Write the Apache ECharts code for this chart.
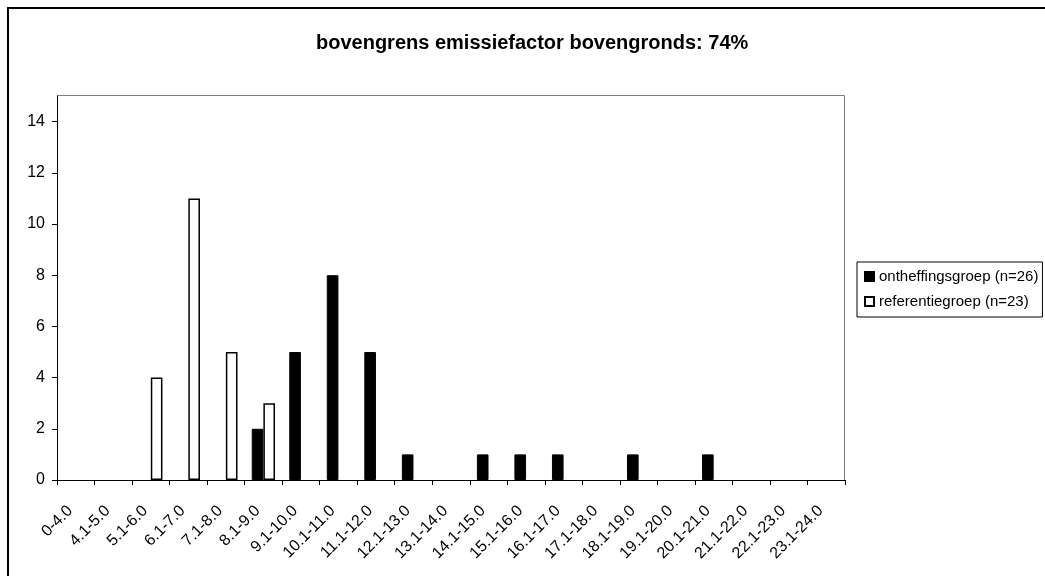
<!DOCTYPE html>
<html>
<head>
<meta charset="utf-8">
<script src="https://cdn.jsdelivr.net/npm/echarts@6/dist/echarts.min.js"></script>
<style>html,body{margin:0;padding:0;background:#fff;}#c{width:1045px;height:576px;}</style>
</head>
<body>
<div id="c"></div>
<script>
const categories = ['0-4.0','4.1-5.0','5.1-6.0','6.1-7.0','7.1-8.0','8.1-9.0','9.1-10.0','10.1-11.0','11.1-12.0','12.1-13.0','13.1-14.0','14.1-15.0','15.1-16.0','16.1-17.0','17.1-18.0','18.1-19.0','19.1-20.0','20.1-21.0','21.1-22.0','22.1-23.0','23.1-24.0'];
const ontheffingsgroep = [0,0,0,0,0,2,5,8,5,1,0,1,1,1,0,1,0,1,0,0,0];
const referentiegroep = [0,0,4,11,5,3,0,0,0,0,0,0,0,0,0,0,0,0,0,0,0];
const seriesNames = ['ontheffingsgroep (n=26)','referentiegroep (n=23)'];
const titleText = 'bovengrens emissiefactor bovengronds: 74%';

const FONT = '"Liberation Sans", Arial, sans-serif';
const chart = echarts.init(document.getElementById('c'), null, {renderer:'canvas'});
const noZero = a => a.map(v => v === 0 ? '-' : v);
chart.setOption({
  animation:false,
  backgroundColor:'#fff',
  textStyle:{fontFamily:FONT},
  title:{
    text:titleText, left:311, top:28,
    textStyle:{fontFamily:FONT, fontSize:20, fontWeight:'bold', color:'#000'}
  },
  graphic:[
    {type:'rect', shape:{x:8, y:8, width:1060, height:600}, style:{fill:null, stroke:'#000', lineWidth:2}, z:-1},
    {type:'rect', shape:{x:57.5, y:95.5, width:787, height:385}, style:{fill:null, stroke:'#808080', lineWidth:1}, z:-1}
  ],
  legend:{
    orient:'vertical', left:857, top:262,
    padding:[7,4,8,7], itemGap:10, itemWidth:9, itemHeight:9,
    borderColor:'#000', borderWidth:1,
    textStyle:{fontFamily:FONT, fontSize:15, color:'#000'},
    data:[{name:seriesNames[0], icon:'rect'},{name:seriesNames[1], icon:'rect'}]
  },
  grid:{left:57, right:200, top:96, bottom:96},
  xAxis:{
    type:'category', data:categories,
    axisLine:{lineStyle:{color:'#000', width:1}},
    axisTick:{show:true, length:5, lineStyle:{color:'#000'}},
    axisLabel:{rotate:45, interval:0, margin:34, verticalAlign:'bottom', align:'right', fontFamily:FONT, fontSize:16, color:'#000'}
  },
  yAxis:{
    type:'value', min:0, max:15, interval:2,
    splitLine:{show:false},
    axisLine:{show:true, lineStyle:{color:'#000', width:1}},
    axisTick:{show:true, length:5, lineStyle:{color:'#000'}},
    axisLabel:{showMaxLabel:false, margin:12, fontFamily:FONT, fontSize:16, color:'#000'}
  },
  series:[
    {name:seriesNames[0], type:'bar', data:noZero(ontheffingsgroep), barGap:'0%', barCategoryGap:'38%',
     itemStyle:{color:'#000', borderColor:'#000', borderWidth:1}},
    {name:seriesNames[1], type:'bar', data:noZero(referentiegroep), barGap:'0%', barCategoryGap:'38%',
     itemStyle:{color:'#fff', borderColor:'#000', borderWidth:1.5}}
  ]
});
</script>
</body>
</html>
